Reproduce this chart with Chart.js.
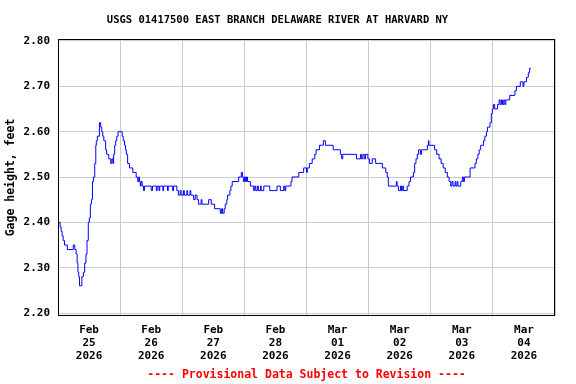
<!DOCTYPE html>
<html>
<head>
<meta charset="utf-8">
<script src="https://cdn.jsdelivr.net/npm/chart.js@4.4.1/dist/chart.umd.min.js"></script>
<style>
  html, body { margin: 0; padding: 0; background: #ffffff; }
  #wrap { width: 576px; height: 384px; }
</style>
</head>
<body>
<div id="wrap"><canvas id="c" width="576" height="384"></canvas></div>
<script>
// Hours since 2026-02-25 00:00 and gage height (feet)
const hours = [
  0, 0.8, 1.2, 1.6, 2.0, 2.5, 3.6, 5.9, 6.5, 7.0, 7.4, 7.7, 8.0, 8.3, 9.2, 9.8, 10.3, 10.8, 11.2, 11.7,
  12.1, 12.5, 12.9, 13.3, 13.7, 14.2, 14.6, 14.8, 15.2, 16.0, 16.5, 16.9, 17.3, 17.7, 18.4, 18.8, 19.6, 20.4, 20.8, 21.2,
  21.5, 21.9, 22.3, 22.7, 23.2, 24.4, 24.8, 25.2, 25.7, 26.1, 26.4, 26.9, 27.6, 28.9, 30.2, 30.8, 31.2, 31.5, 31.8, 32.1,
  32.5, 33.0, 33.4, 36.0, 36.5, 38.0, 38.3, 39.0, 39.3, 40.5, 40.8, 42.3, 42.6, 44.3, 44.6, 45.9, 46.5, 47.2, 47.6, 48.5,
  48.8, 49.8, 50.1, 51.0, 51.3, 52.4, 53.0, 53.7, 54.3, 55.3, 55.6, 58.2, 59.2, 60.5, 62.7, 63.2, 63.6, 64.2, 64.6, 65.2,
  65.5, 66.4, 66.8, 67.3, 69.8, 70.8, 71.3, 71.6, 72.0, 72.4, 72.8, 73.2, 74.3, 75.6, 76.0, 76.4, 77.0, 77.4, 78.2, 78.5,
  79.5, 81.8, 84.6, 85.9, 87.2, 87.6, 88.0, 90.0, 90.4, 93.0, 94.9, 96.0, 96.3, 97.1, 98.2, 99.2, 99.7, 101.0, 102.5, 103.3,
  106.3, 109.1, 109.6, 110.0, 115.3, 116.9, 117.3, 117.8, 118.3, 118.8, 119.7, 120.3, 121.4, 122.7, 125.3, 126.6, 127.2, 127.6, 130.7, 131.0,
  131.5, 132.3, 132.7, 133.2, 133.5, 134.9, 135.6, 136.2, 137.3, 137.8, 138.3, 138.8, 139.3, 140.0, 140.4, 142.7, 143.1, 143.3, 145.5, 146.3,
  147.2, 148.0, 148.8, 149.6, 150.4, 151.1, 151.7, 152.2, 152.6, 153.4, 153.7, 154.2, 154.5, 155.6, 156.2, 156.6, 157.0, 159.2, 161.1, 161.6,
  162.2, 162.7, 163.3, 164.4, 164.9, 165.5, 165.9, 166.9, 167.4, 167.8, 168.2, 168.7, 169.8, 170.4, 170.8, 171.3, 171.7, 172.2, 172.6, 173.0,
  174.5, 176.5, 177.1, 178.6, 179.2, 179.6, 180.0, 181.0, 181.7, 182.2, 182.7
];
const gage = [
  2.40, 2.39, 2.38, 2.37, 2.36, 2.35, 2.34, 2.35, 2.34, 2.33, 2.31, 2.29, 2.28, 2.26, 2.28, 2.29, 2.31, 2.33, 2.36, 2.40,
  2.41, 2.44, 2.45, 2.49, 2.50, 2.53, 2.57, 2.58, 2.59, 2.62, 2.61, 2.60, 2.59, 2.58, 2.56, 2.55, 2.54, 2.53, 2.54, 2.53,
  2.55, 2.57, 2.58, 2.59, 2.60, 2.60, 2.59, 2.58, 2.57, 2.56, 2.55, 2.53, 2.52, 2.51, 2.50, 2.49, 2.50, 2.49, 2.48, 2.49,
  2.48, 2.47, 2.48, 2.47, 2.48, 2.47, 2.48, 2.47, 2.48, 2.47, 2.48, 2.47, 2.48, 2.47, 2.48, 2.47, 2.46, 2.47, 2.46, 2.47,
  2.46, 2.47, 2.46, 2.47, 2.46, 2.45, 2.46, 2.45, 2.44, 2.45, 2.44, 2.45, 2.44, 2.43, 2.42, 2.43, 2.42, 2.43, 2.44, 2.45,
  2.46, 2.47, 2.48, 2.49, 2.50, 2.51, 2.50, 2.49, 2.50, 2.49, 2.50, 2.49, 2.48, 2.47, 2.48, 2.47, 2.48, 2.47, 2.48, 2.47,
  2.48, 2.47, 2.48, 2.47, 2.48, 2.47, 2.48, 2.49, 2.50, 2.51, 2.52, 2.51, 2.52, 2.53, 2.54, 2.55, 2.56, 2.57, 2.58, 2.57,
  2.56, 2.55, 2.54, 2.55, 2.54, 2.55, 2.54, 2.55, 2.54, 2.55, 2.54, 2.53, 2.54, 2.53, 2.52, 2.51, 2.50, 2.48, 2.49, 2.48,
  2.47, 2.48, 2.47, 2.48, 2.47, 2.48, 2.49, 2.50, 2.51, 2.53, 2.54, 2.55, 2.56, 2.55, 2.56, 2.57, 2.58, 2.57, 2.56, 2.55,
  2.54, 2.53, 2.52, 2.51, 2.50, 2.49, 2.48, 2.49, 2.48, 2.49, 2.48, 2.49, 2.48, 2.49, 2.50, 2.49, 2.50, 2.52, 2.53, 2.54,
  2.55, 2.56, 2.57, 2.58, 2.59, 2.60, 2.61, 2.62, 2.64, 2.65, 2.66, 2.65, 2.66, 2.67, 2.66, 2.67, 2.66, 2.67, 2.66, 2.67,
  2.68, 2.69, 2.70, 2.71, 2.71, 2.70, 2.71, 2.72, 2.73, 2.74, 2.74
];

// Axis ticks
const yTicks = [2.20, 2.30, 2.40, 2.50, 2.60, 2.70, 2.80];
const gridHours = [0, 24, 48, 72, 96, 120, 144, 168, 192];
const labelHours = [12, 36, 60, 84, 108, 132, 156, 180];
const labelMonths = ['Feb', 'Feb', 'Feb', 'Feb', 'Mar', 'Mar', 'Mar', 'Mar'];
const labelDays = ['25', '26', '27', '28', '01', '02', '03', '04'];
const labelYear = '2026';

const points = hours.map((h, i) => ({ x: h, y: gage[i] }));
const allXTicks = gridHours.concat(labelHours).sort((a, b) => a - b);
const MONO = "'DejaVu Sans Mono', 'Liberation Mono', monospace";

const frame = {
  id: 'frame',
  afterDraw(chart) {
    const { ctx, chartArea: ca } = chart;
    ctx.save();
    ctx.strokeStyle = '#000000';
    ctx.lineWidth = 1;
    ctx.strokeRect(ca.left + 0.5, ca.top + 0.5, ca.right - ca.left - 1, ca.bottom - ca.top - 1);
    ctx.restore();
  }
};

new Chart(document.getElementById('c'), {
  type: 'line',
  data: {
    datasets: [{
      data: points,
      borderColor: '#0000ff',
      borderWidth: 1,
      pointRadius: 0,
      stepped: true,
      fill: false,
      tension: 0
    }]
  },
  options: {
    responsive: false,
    animation: false,
    devicePixelRatio: 1,
    layout: { padding: { left: 0, right: 21, top: 0, bottom: 0 } },
    plugins: {
      legend: { display: false },
      tooltip: { enabled: false },
      title: {
        display: true,
        text: 'USGS 01417500 EAST BRANCH DELAWARE RIVER AT HARVARD NY',
        color: '#000000',
        font: { family: MONO, size: 10.5, weight: 'bold', lineHeight: 1.2 },
        padding: { top: 14, bottom: 12.4 }
      }
    },
    scales: {
      x: {
        type: 'linear',
        min: 0,
        max: 192,
        afterBuildTicks(scale) { scale.ticks = allXTicks.map(v => ({ value: v })); },
        afterFit(scale) { scale.height = 68; },
        grid: {
          color: ctx => (ctx.tick && gridHours.includes(ctx.tick.value)) ? '#cccccc' : 'rgba(0,0,0,0)',
          lineWidth: 1,
          drawTicks: false
        },
        border: { display: false },
        ticks: {
          autoSkip: false,
          maxRotation: 0,
          minRotation: 0,
          padding: 8,
          color: '#000000',
          font: { family: MONO, size: 11, weight: 'bold', lineHeight: 1.18 },
          callback: (v) => {
            const i = labelHours.indexOf(v);
            return i >= 0 ? [labelMonths[i], labelDays[i], labelYear] : '';
          }
        },
        title: {
          display: true,
          text: '---- Provisional Data Subject to Revision ----',
          color: '#ff0000',
          font: { family: MONO, size: 11.5, weight: 'bold', lineHeight: 1.2 },
          padding: { top: 0, bottom: 2 }
        }
      },
      y: {
        min: 2.1934,
        max: 2.8044,
        afterBuildTicks(scale) { scale.ticks = yTicks.map(v => ({ value: v })); },
        afterFit(scale) { scale.width = 58; },
        grid: { color: '#cccccc', lineWidth: 1, drawTicks: false },
        border: { display: false },
        ticks: {
          padding: 8,
          color: '#000000',
          font: { family: MONO, size: 11, weight: 'bold' },
          callback: v => Number(v).toFixed(2)
        },
        title: {
          display: true,
          text: 'Gage height, feet',
          color: '#000000',
          font: { family: MONO, size: 11.5, weight: 'bold', lineHeight: 1.2 },
          padding: { top: 4, bottom: 0 }
        }
      }
    }
  },
  plugins: [frame]
});
</script>
</body>
</html>
